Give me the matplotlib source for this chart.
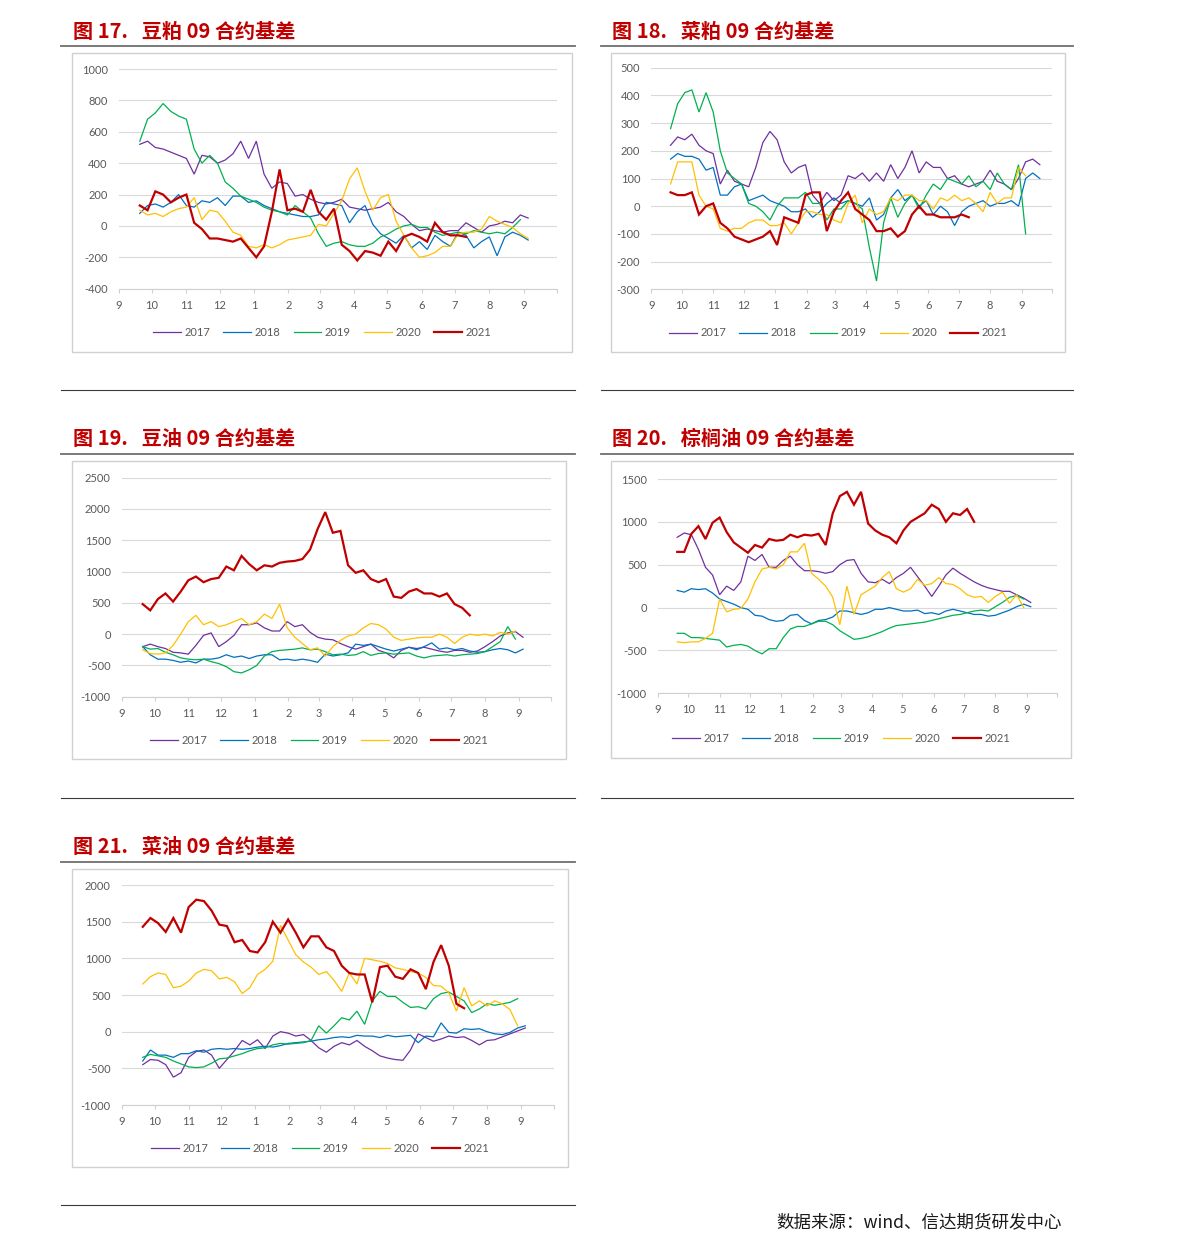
import matplotlib
matplotlib.use('Agg')
import matplotlib.pyplot as plt
import pandas as pd
from matplotlib.patches import Rectangle
from matplotlib.lines import Line2D

plt.rcParams['font.family'] = ['Lato', 'DejaVu Sans']
plt.rcParams['axes.unicode_minus'] = False

# ---------------- data ----------------
years = ['2017', '2018', '2019', '2020', '2021']
month_labels = ['9', '10', '11', '12', '1', '2', '3', '4', '5', '6', '7', '8', '9', '']
start_date = '2020-09-20'   # first observation; values are weekly

# 图17 豆粕
p17_2017 = [520,540,500,490,470,450,430,330,450,440,400,420,460,540,430,540,330,240,280,270,190,200,170,150,140,150,170,120,110,100,110,120,150,90,60,10,-30,-20,-30,-40,-30,-30,20,-10,-40,0,10,30,20,70,50]
p17_2018 = [80,130,140,120,150,200,130,120,160,150,180,130,190,190,150,160,130,110,90,80,70,60,60,70,150,140,130,20,90,130,10,-50,-80,-110,-60,-140,-100,-150,-60,-100,-130,-40,-60,-140,-100,-70,-190,-70,-40,-60,-90]
p17_2019 = [540,680,720,780,730,700,680,490,400,450,400,280,240,190,170,150,120,100,90,70,130,90,50,-50,-130,-110,-100,-120,-130,-130,-110,-70,-50,-20,0,10,-10,-10,-40,-60,-50,-40,-50,-30,-40,-50,-40,-50,-10,40]
p17_2020 = [100,70,80,60,90,110,120,180,40,100,90,30,-40,-60,-130,-140,-120,-140,-120,-90,-80,-70,-60,10,0,80,160,300,370,220,100,180,200,30,-60,-140,-200,-190,-170,-130,-130,-50,-40,-40,-20,60,30,10,-10,-50,-80]
p17_2021 = [130,100,220,200,150,180,200,20,-20,-80,-80,-90,-100,-80,-140,-200,-130,90,360,100,110,90,230,90,40,110,-120,-160,-220,-160,-170,-190,-100,-160,-70,-50,-70,-100,20,-40,-60,-60,-70]

# 图18 菜粕
p18_2017 = [220,250,240,260,220,200,190,80,130,90,80,70,140,230,270,240,160,120,140,150,40,10,50,20,40,110,100,120,90,120,90,150,100,140,200,120,160,140,140,100,110,80,70,80,90,130,90,80,60,100,160,170,150]
p18_2018 = [170,190,180,180,170,130,140,40,40,70,80,20,30,40,20,10,0,-20,-20,-10,-40,-20,10,30,10,20,10,0,30,-50,-30,30,60,20,40,0,20,-30,0,-20,-70,-20,0,10,20,0,10,10,20,0,100,120,100]
p18_2019 = [280,370,410,420,340,410,340,200,120,100,80,10,0,-20,-50,0,30,30,30,50,10,10,-50,-10,-10,20,10,-10,-150,-270,-60,30,-40,10,40,-10,40,80,60,100,90,80,110,70,90,60,120,80,60,150,-100]
p18_2020 = [80,160,160,160,40,0,-10,-80,-90,-80,-80,-60,-50,-50,-70,-70,-60,-100,-60,-20,-20,-30,-30,-50,-60,10,40,-60,-10,-30,-20,30,20,40,40,20,20,-10,30,20,40,20,30,10,-20,50,10,30,30,140,110]
p18_2021 = [50,40,40,50,-30,0,10,-60,-80,-110,-120,-130,-120,-110,-90,-140,-40,-50,-60,40,50,50,-90,-20,20,50,-10,-30,-50,-90,-90,-80,-110,-90,-30,0,-30,-30,-40,-40,-40,-30,-40]

# 图19 豆油
p19_2017 = [-200,-160,-200,-230,-290,-300,-320,-180,-20,20,-200,-120,-20,150,150,180,100,50,50,200,120,150,30,-50,-80,-90,-150,-200,-240,-200,-160,-260,-300,-380,-260,-210,-230,-210,-240,-270,-290,-260,-260,-290,-270,-200,-120,-30,20,40,-50]
p19_2018 = [-200,-330,-400,-400,-420,-450,-430,-460,-400,-400,-380,-330,-370,-350,-390,-350,-330,-330,-410,-400,-420,-400,-420,-450,-320,-350,-330,-300,-160,-180,-160,-200,-240,-270,-240,-210,-250,-200,-140,-240,-220,-250,-230,-270,-290,-280,-250,-230,-250,-300,-240]
p19_2019 = [-200,-240,-230,-290,-330,-380,-400,-410,-400,-440,-470,-520,-600,-620,-570,-500,-350,-280,-260,-250,-240,-220,-250,-240,-280,-330,-320,-340,-330,-280,-340,-310,-300,-320,-310,-300,-350,-380,-350,-340,-330,-350,-330,-320,-310,-280,-200,-120,120,-80]
p19_2020 = [-250,-310,-320,-300,-180,0,200,300,150,200,120,150,200,250,150,200,320,250,480,100,-50,-150,-250,-220,-350,-200,-100,-30,0,100,170,150,80,-50,-100,-80,-60,-50,-50,0,-50,-150,-50,0,-20,0,-30,30,0,50]
p19_2021 = [480,380,560,650,520,680,860,920,830,880,900,1080,1020,1250,1120,1020,1100,1080,1140,1160,1170,1200,1350,1680,1950,1620,1650,1100,980,1020,880,830,880,600,580,680,720,650,650,600,650,480,420,300]

# 图20 棕榈油
p20_2017 = [820,870,850,680,470,380,150,250,200,300,600,550,620,470,470,550,600,500,430,430,420,400,420,500,550,560,400,300,290,330,280,350,400,470,360,250,130,250,380,460,400,350,300,260,230,210,190,190,150,110,60]
p20_2018 = [200,180,220,210,220,170,100,70,40,0,-20,-90,-100,-140,-160,-150,-90,-80,-150,-190,-150,-140,-110,-40,-40,-60,-80,-60,-20,-20,0,-20,-40,-40,-30,-70,-60,-80,-40,-20,-40,-60,-80,-80,-100,-90,-60,-30,10,40,10]
p20_2019 = [-300,-300,-350,-350,-360,-370,-380,-460,-440,-430,-450,-500,-540,-480,-480,-350,-250,-220,-220,-190,-160,-160,-200,-270,-320,-370,-360,-340,-310,-280,-240,-210,-200,-190,-180,-170,-150,-130,-110,-90,-80,-60,-40,-30,-40,10,60,120,140,100]
p20_2020 = [-400,-410,-400,-400,-360,-300,100,-50,-20,-10,100,300,450,470,450,500,650,650,750,400,330,250,120,-200,250,-80,150,200,250,350,420,220,180,220,330,260,280,350,280,270,220,150,120,130,60,130,180,50,150,0]
p20_2021 = [650,650,860,950,800,990,1050,880,760,700,640,730,700,800,780,790,850,820,850,840,860,730,1100,1300,1350,1200,1350,980,900,850,820,750,900,1000,1050,1100,1200,1150,1000,1100,1080,1150,1000]

# 图21 菜油
p21_2017 = [-450,-380,-390,-450,-620,-560,-350,-270,-250,-320,-500,-380,-260,-120,-180,-110,-230,-60,0,-20,-60,-40,-120,-220,-280,-200,-150,-180,-120,-200,-260,-330,-360,-380,-390,-250,-30,-80,-130,-100,-60,-80,-70,-120,-180,-120,-110,-70,-30,10,50]
p21_2018 = [-400,-250,-320,-320,-350,-300,-300,-260,-280,-240,-230,-240,-230,-240,-230,-210,-200,-210,-190,-160,-150,-140,-130,-110,-100,-80,-70,-80,-50,-60,-60,-80,-50,-70,-60,-50,-150,-60,-70,120,-10,-20,40,30,40,0,-30,-40,-10,50,80]
p21_2019 = [-350,-310,-330,-350,-400,-440,-480,-490,-480,-430,-370,-360,-330,-300,-260,-230,-220,-180,-160,-170,-160,-150,-120,80,-20,80,190,160,280,100,420,550,480,480,400,330,340,310,450,520,540,480,420,260,310,380,360,380,400,450]
p21_2020 = [650,750,800,780,600,620,690,800,850,830,720,740,680,520,600,780,850,960,1450,1250,1050,950,880,780,820,700,550,800,650,1000,980,960,930,870,850,820,800,740,630,620,530,280,600,350,420,350,420,380,300,80]
p21_2021 = [1430,1550,1480,1360,1550,1350,1700,1800,1780,1650,1460,1440,1220,1250,1100,1080,1220,1500,1350,1530,1350,1150,1300,1300,1150,1100,900,800,780,780,400,880,900,750,720,850,800,580,950,1180,900,380,320]

titles = ['图 17.   豆粕 09 合约基差', '图 18.   菜粕 09 合约基差', '图 19.   豆油 09 合约基差',
          '图 20.   棕榈油 09 合约基差', '图 21.   菜油 09 合约基差']
yticks_17 = [-400, -200, 0, 200, 400, 600, 800, 1000]
yticks_18 = [-300, -200, -100, 0, 100, 200, 300, 400, 500]
yticks_19 = [-1000, -500, 0, 500, 1000, 1500, 2000, 2500]
yticks_20 = [-1000, -500, 0, 500, 1000, 1500]
yticks_21 = [-1000, -500, 0, 500, 1000, 1500, 2000]
source_text = '数据来源：wind、信达期货研发中心'

# ---------------- style / layout ----------------
colors = ['#7030A0', '#0070C0', '#00B050', '#FFC000', '#C00000']
W, H = 1191, 1252
fig = plt.figure(figsize=(W / 100, H / 100), dpi=100)
fig.patch.set_facecolor('white')


def fx(px):
    return px / W


def fy(py):
    return 1 - py / H


def hline(x0, x1, y, color, lw):
    fig.add_artist(Line2D([fx(x0), fx(x1)], [fy(y), fy(y)], transform=fig.transFigure,
                          color=color, lw=lw))


def panel(title, title_xy, rule, sep_y, box, plot, legend_y, yticks, series):
    tx, ty = title_xy
    fig.text(fx(tx), fy(ty), title, ha='left', va='center', fontsize=14.5, fontweight='bold',
             color='#C00000', family=['Noto Sans CJK SC', 'DejaVu Sans'])
    hline(rule[0], rule[1], rule[2], '#6E6E6E', 1.3)
    hline(rule[0], rule[1], sep_y, '#3A3A3A', 0.8)
    bx0, by0, bx1, by1 = box
    fig.add_artist(Rectangle((fx(bx0), fy(by1)), fx(bx1) - fx(bx0), fy(by0) - fy(by1),
                             transform=fig.transFigure, fill=False, edgecolor='#D0D0D0', lw=1.0))
    px0, py0, px1, py1 = plot
    ax = fig.add_axes([fx(px0), fy(py1), fx(px1) - fx(px0), fy(py0) - fy(py1)])
    ax.set_facecolor('none')
    for vals, c, lab in zip(series, colors, years):
        x = pd.date_range(start_date, periods=len(vals), freq='7D')
        ax.plot(x, vals, color=c, lw=1.6 if lab == '2021' else 0.9, label=lab,
                solid_joinstyle='miter', zorder=3)
    ax.set_xlim(pd.Timestamp('2020-09-01'), pd.Timestamp('2021-10-01'))
    ax.set_xticks(pd.date_range('2020-09-01', '2021-10-01', freq='MS'))
    ax.set_xticklabels(month_labels)
    ax.set_ylim(yticks[0], yticks[-1])
    ax.set_yticks(yticks)
    ax.set_yticklabels([str(v) for v in yticks])
    ax.grid(axis='y', color='#D9D9D9', lw=0.8, zorder=0)
    for s in ['left', 'right', 'top']:
        ax.spines[s].set_visible(False)
    ax.spines['bottom'].set_color('#D0D0D0')
    ax.spines['bottom'].set_linewidth(0.8)
    ax.tick_params(axis='y', length=0, pad=8, labelsize=8, labelcolor='#595959')
    ax.tick_params(axis='x', length=3, width=0.8, color='#D0D0D0', pad=5, labelsize=8,
                   labelcolor='#595959')
    leg = ax.legend(loc='center', bbox_to_anchor=(fx((bx0 + bx1) / 2), fy(legend_y)),
                    bbox_transform=fig.transFigure, ncol=5, frameon=False, fontsize=8,
                    handlelength=2.5, handletextpad=0.3, columnspacing=1.2)
    for t in leg.get_texts():
        t.set_color('#595959')
    return ax


panel(titles[0], (73, 31), (61, 575, 46), 390, (72, 53, 572, 352), (118.7, 69, 557, 288.7), 332,
      yticks_17, [p17_2017, p17_2018, p17_2019, p17_2020, p17_2021])
panel(titles[1], (612, 31), (601, 1073, 46), 390, (611, 53, 1065, 352), (651.3, 67.7, 1052, 289.3), 333,
      yticks_18, [p18_2017, p18_2018, p18_2019, p18_2020, p18_2021])
panel(titles[2], (73, 438), (61, 575, 454), 798, (72, 461, 566, 759), (122, 477.7, 551.3, 696.7), 740,
      yticks_19, [p19_2017, p19_2018, p19_2019, p19_2020, p19_2021])
panel(titles[3], (612, 438), (601, 1073, 454), 798, (611, 461, 1071, 758), (658, 479, 1057, 693.3), 738,
      yticks_20, [p20_2017, p20_2018, p20_2019, p20_2020, p20_2021])
panel(titles[4], (73, 846), (61, 575, 862), 1205, (72, 869, 568, 1167), (122, 885, 553.7, 1105), 1148,
      yticks_21, [p21_2017, p21_2018, p21_2019, p21_2020, p21_2021])

fig.text(fx(776), fy(1222), source_text, ha='left', va='center', fontsize=12.6, color='#1A1A1A',
         family=['Noto Sans CJK SC', 'DejaVu Sans'])

fig.savefig('out.png', dpi=100, facecolor='white')
